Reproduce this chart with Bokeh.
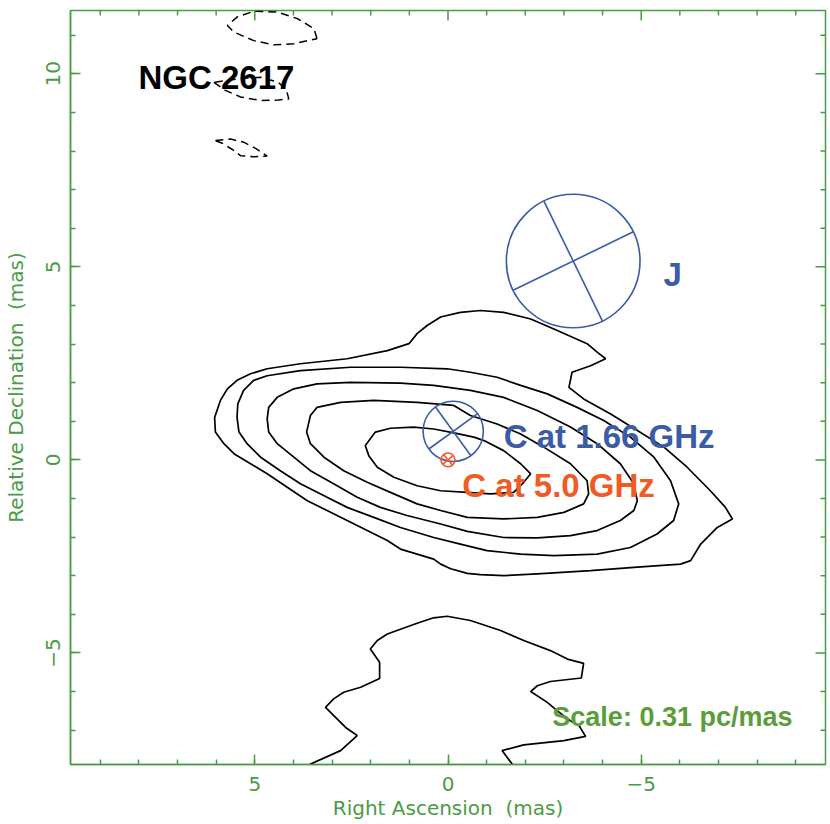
import numpy as np
from bokeh.plotting import figure
from bokeh.models import Range1d, LinearAxis, SingleIntervalTicker, CustomJSTickFormatter
from bokeh.core.properties import value
from bokeh.embed import file_html
from bokeh.resources import INLINE

# ---------------- data (mas) ----------------
x_range_mas = (9.77, -9.77)
y_range_mas = (-7.89, 11.64)
tick_major = [-5, 0, 5, 10]
tick_minor = [-9, -8, -7, -6, -4, -3, -2, -1, 1, 2, 3, 4, 6, 7, 8, 9, 11]

# solid contours, outer to inner (closed)
c1_x = [-0.84, -0.32, 0.19, 0.54, 0.80, 1.01, 1.57, 2.61, 3.82, 4.68, 5.11, 5.46, 5.71, 5.89, 6.04, 6.02, 5.80, 5.54, 5.11, 4.68,
        4.16, 3.64, 3.13, 2.61, 2.09, 1.57, 1.23, 0.80, 0.37, 0.19, -0.07, -0.50, -0.84, -1.44, -2.31, -3.69, -4.90, -6.02, -6.28, -6.54,
        -6.97, -7.36, -7.18, -6.79, -6.19, -5.59, -4.90, -4.21, -3.51, -3.13, -3.21, -3.69, -4.08, -3.86, -3.60, -2.83, -2.14, -1.44]
c1_y = [3.87, 3.82, 3.70, 3.48, 3.27, 3.01, 2.83, 2.62, 2.49, 2.36, 2.23, 2.06, 1.84, 1.54, 1.10, 0.72, 0.42, 0.16, -0.10, -0.36,
        -0.71, -1.06, -1.31, -1.57, -1.83, -2.09, -2.31, -2.44, -2.57, -2.70, -2.82, -2.94, -2.97, -3.00, -2.95, -2.87, -2.78, -2.70, -2.61, -2.18,
        -1.75, -1.53, -1.23, -0.80, -0.19, 0.33, 0.76, 1.19, 1.58, 1.88, 2.27, 2.44, 2.62, 2.79, 3.01, 3.35, 3.65, 3.82]

c2_x = [-0.58, 0.02, 1.23, 2.52, 3.82, 4.68, 5.03, 5.29, 5.44, 5.46, 5.41, 5.20, 4.85, 4.34, 3.82, 3.13, 2.61, 1.92, 1.23, 0.37,
        -0.32, -1.01, -1.88, -2.74, -3.86, -4.72, -5.41, -5.84, -5.97, -5.76, -5.33, -4.72, -4.03, -3.34, -2.57, -1.88, -1.27]
c2_y = [2.27, 2.36, 2.40, 2.40, 2.31, 2.18, 2.06, 1.80, 1.45, 1.10, 0.72, 0.42, 0.07, -0.28, -0.62, -0.97, -1.23, -1.49, -1.75, -2.01,
        -2.18, -2.35, -2.44, -2.48, -2.44, -2.27, -1.92, -1.57, -1.14, -0.54, 0.07, 0.59, 1.02, 1.36, 1.71, 1.93, 2.14]

c3_x = [0.37, 1.23, 2.52, 3.39, 3.99, 4.42, 4.64, 4.68, 4.64, 4.42, 3.99, 3.56, 2.96, 2.35, 1.75, 1.06, 0.19, -0.50, -1.44, -2.31,
        -3.17, -3.86, -4.46, -4.81, -4.90, -4.81, -4.46, -3.86, -3.17, -2.31, -1.44, -0.58]
c3_y = [1.93, 1.99, 2.01, 1.97, 1.84, 1.62, 1.36, 1.06, 0.72, 0.42, 0.07, -0.28, -0.62, -0.97, -1.23, -1.44, -1.66, -1.85, -2.01, -2.02,
        -1.96, -1.83, -1.57, -1.31, -1.06, -0.62, -0.10, 0.42, 0.85, 1.28, 1.62, 1.80]

c4_x = [-0.15, 0.80, 1.92, 2.78, 3.39, 3.56, 3.66, 3.56, 3.21, 2.70, 2.09, 1.40, 0.80, 0.19, -0.50, -1.44, -2.31, -3.00, -3.51, -3.64,
        -3.60, -3.17, -2.48, -1.88, -1.27, -0.58]
c4_y = [1.41, 1.49, 1.54, 1.49, 1.36, 1.15, 0.72, 0.42, 0.07, -0.28, -0.58, -0.88, -1.14, -1.31, -1.49, -1.53, -1.49, -1.36, -1.14, -0.88,
        -0.54, -0.10, 0.33, 0.67, 0.93, 1.15]

c5_x = [-0.67, -0.93, -1.44, -1.88, -2.14, -1.96, -1.70, -1.10, -0.50, 0.19, 0.80, 1.40, 1.83, 2.05, 2.14, 1.88, 1.49, 0.89, 0.37, -0.15]
c5_y = [0.59, 0.50, 0.24, -0.10, -0.36, -0.58, -0.84, -0.88, -0.84, -0.80, -0.67, -0.45, -0.19, 0.11, 0.37, 0.72, 0.82, 0.85, 0.80, 0.70]

# southern contour (open, leaves the frame at the bottom)
s_x = [3.77, 3.56, 2.78, 2.35, 2.65, 3.17, 2.96, 2.70, 2.26, 1.77, 1.77, 2.01, 1.83, 1.57, 0.80, 0.37, 0.02, -0.58, -1.36, -1.96,
       -2.65, -3.09, -3.51, -3.45, -2.65, -2.31, -2.14, -2.57, -2.83, -3.17, -3.39, -3.56, -3.00, -1.96, -1.40, -1.66, -1.75]
s_y = [-8.0, -7.88, -7.53, -7.14, -6.93, -6.41, -6.19, -6.02, -5.89, -5.66, -5.24, -4.90, -4.68, -4.51, -4.23, -4.09, -4.05, -4.16, -4.42, -4.68,
       -4.94, -5.16, -5.27, -5.65, -5.74, -5.85, -6.00, -6.28, -6.50, -6.76, -6.88, -7.16, -7.27, -7.38, -7.53, -7.88, -8.0]

# negative (dashed) contours
d1_x = [3.39, 3.47, 3.90, 4.42, 5.03, 5.46, 5.71, 5.54, 5.03, 4.51, 3.99, 3.39]
d1_y = [10.91, 11.17, 11.43, 11.60, 11.62, 11.47, 11.25, 11.08, 10.86, 10.75, 10.78, 10.91]
d2_x = [6.06, 5.76, 5.37, 4.85, 4.39, 4.12, 4.18, 4.39, 4.85, 5.37, 6.06]
d2_y = [9.78, 9.57, 9.40, 9.31, 9.32, 9.35, 9.57, 9.78, 9.91, 9.88, 9.78]
d3_x = [6.02, 5.63, 5.29, 4.98, 4.68, 5.03, 5.37, 5.58, 5.84, 6.02]
d3_y = [8.27, 8.31, 8.23, 8.07, 7.87, 7.85, 7.88, 8.04, 8.20, 8.27]

# beams / component markers: centre, radius, position angle of cross (deg)
beam_x = [-3.24, -0.135, 0.0]
beam_y = [5.15, 0.74, 0.0]
beam_r = [1.73, 0.78, 0.18]
beam_pa = [26.0, 36.0, 40.0]
BLUE = "#3b5ba9"
RED = "#f05a24"
GREEN = "#4a9b45"
beam_color = [BLUE, BLUE, RED]

label_text = ["NGC 2617", "J", "C at 1.66 GHz", "C at 5.0 GHz", "Scale: 0.31 pc/mas"]
label_x = [8.01, -5.58, -1.44, -0.37, -2.70]
label_y = [9.91, 4.79, 0.61, -0.67, -6.65]
label_color = ["#000000", BLUE, BLUE, RED, "#5a9e3a"]
label_size = ["33px", "33px", "33px", "33px", "27px"]

# ---------------- figure ----------------
p = figure(frame_width=755, frame_height=754,
           x_range=Range1d(*x_range_mas), y_range=Range1d(*y_range_mas),
           output_backend="svg", toolbar_location=None,
           min_border_left=70, min_border_right=5, min_border_top=10, min_border_bottom=60,
           x_axis_location=None, y_axis_location=None)
p.grid.visible = False
p.outline_line_color = GREEN
p.outline_line_width = 1.5
p.background_fill_color = "white"
p.border_fill_color = "white"

fmt = CustomJSTickFormatter(code="return tick < 0 ? '\\u2212' + Math.abs(tick) : String(tick);")


def make_axis(label):
    ax = LinearAxis(ticker=SingleIntervalTicker(interval=5, num_minor_ticks=5), formatter=fmt)
    ax.axis_line_color = GREEN
    ax.axis_line_width = 1.5
    ax.major_tick_line_color = GREEN
    ax.minor_tick_line_color = GREEN
    ax.major_tick_line_width = 1.5
    ax.minor_tick_line_width = 1.5
    ax.major_tick_in = 10
    ax.major_tick_out = 0
    ax.minor_tick_in = 5
    ax.minor_tick_out = 0
    ax.major_label_text_color = GREEN
    ax.major_label_text_font = "DejaVu Sans"
    ax.major_label_text_font_size = "20px"
    ax.axis_label = label
    ax.axis_label_text_color = GREEN
    ax.axis_label_text_font = "DejaVu Sans"
    ax.axis_label_text_font_style = "normal"
    ax.axis_label_text_font_size = "20px"
    return ax


xb = make_axis("Right Ascension \u00a0(mas)")
xb.major_label_standoff = 12
xb.axis_label_standoff = 2
yl = make_axis("Relative Declination \u00a0(mas)")
yl.major_label_orientation = "vertical"
yl.major_label_standoff = 10
yl.axis_label_standoff = 16
p.add_layout(xb, "below")
p.add_layout(yl, "left")

# ticks on the top and right frame edges (inward)
top_y = y_range_mas[1]
right_x = x_range_mas[1]
mx = [t for t in tick_major if x_range_mas[1] < t < x_range_mas[0]]
nx = [t for t in tick_minor if x_range_mas[1] < t < x_range_mas[0]]
my = [t for t in tick_major if y_range_mas[0] < t < y_range_mas[1]]
ny = [t for t in tick_minor if y_range_mas[0] < t < y_range_mas[1]]
ylen_major, ylen_minor = 10 / 38.6, 5 / 38.6
xlen_major, xlen_minor = 10 / 38.64, 5 / 38.64
p.segment(x0=mx, y0=[top_y] * len(mx), x1=mx, y1=[top_y - ylen_major] * len(mx), line_color=GREEN, line_width=1.5)
p.segment(x0=nx, y0=[top_y] * len(nx), x1=nx, y1=[top_y - ylen_minor] * len(nx), line_color=GREEN, line_width=1.5)
p.segment(x0=[right_x] * len(my), y0=my, x1=[right_x + xlen_major] * len(my), y1=my, line_color=GREEN, line_width=1.5)
p.segment(x0=[right_x] * len(ny), y0=ny, x1=[right_x + xlen_minor] * len(ny), y1=ny, line_color=GREEN, line_width=1.5)

# solid contours
for cx, cy in [(c1_x, c1_y), (c2_x, c2_y), (c3_x, c3_y), (c4_x, c4_y), (c5_x, c5_y)]:
    p.line(list(cx) + [cx[0]], list(cy) + [cy[0]], line_color="black", line_width=1.7)
p.line(s_x, s_y, line_color="black", line_width=1.7)

# dashed contours
p.line(d1_x, d1_y, line_color="black", line_width=1.5, line_dash="8 5")
p.line(d2_x, d2_y, line_color="black", line_width=1.5, line_dash="8 5")
p.line(d3_x, d3_y, line_color="black", line_width=1.5, line_dash="8 5")

# beams
bx = np.array(beam_x)
by = np.array(beam_y)
br = np.array(beam_r)
pa = np.radians(np.array(beam_pa))
p.ellipse(x=beam_x, y=beam_y, width=list(2 * br), height=list(2 * br),
          fill_color=None, line_color=beam_color, line_width=1.6)
for ang in (pa, pa + np.pi / 2):
    p.segment(x0=list(bx + br * np.sin(ang)), y0=list(by + br * np.cos(ang)),
              x1=list(bx - br * np.sin(ang)), y1=list(by - br * np.cos(ang)),
              line_color=beam_color, line_width=1.6)

# labels
for t, x, y, c, s in zip(label_text, label_x, label_y, label_color, label_size):
    p.text(x=[x], y=[y], text=[t], text_color=c, text_font=value("Liberation Sans"),
           text_font_style="bold", text_font_size=s, text_align="left", text_baseline="middle")

open("out.html", "w").write(file_html(p, INLINE))
